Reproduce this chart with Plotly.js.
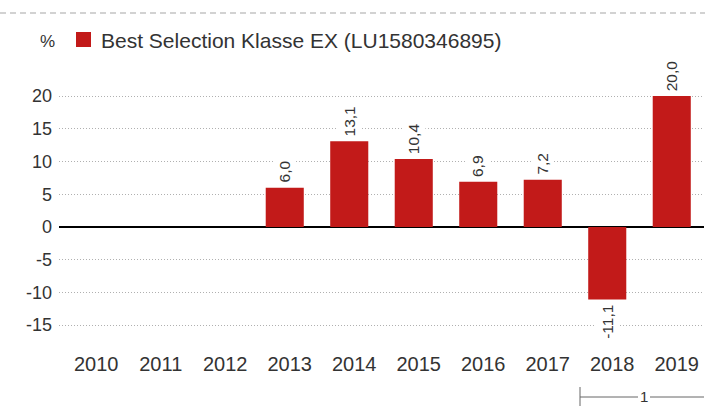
<!DOCTYPE html>
<html>
<head>
<meta charset="utf-8">
<script src="https://cdn.plot.ly/plotly-3.0.1.min.js"></script>
<style>html,body{margin:0;padding:0;background:#fff;}#chart{width:705px;height:409px;}</style>
</head>
<body>
<div id="chart"></div>
<script>
const years = ['2010','2011','2012','2013','2014','2015','2016','2017','2018','2019'];
const returns = [null, null, null, 6.0, 13.1, 10.4, 6.9, 7.2, -11.1, 20.0];
const seriesName = 'Best Selection Klasse EX (LU1580346895)';
const yTicks = [-15, -10, -5, 0, 5, 10, 15, 20];
const unitLabel = '%';
const periodLabel = '1';

const W = 705, H = 409;
const M = {l: 59, r: 1, t: 83, b: 61};
const pw = W - M.l - M.r, ph = H - M.t - M.b;
const px = x => (x - M.l) / pw;
const py = y => (H - M.b - y) / ph;

const fam = 'Liberation Sans, Arial, sans-serif';

const trace = {
  type: 'bar', x: years, y: returns, name: seriesName,
  marker: {color: '#c21a19'},
  width: 0.59,
  cliponaxis: false, hoverinfo: 'none', showlegend: false
};

// value labels with white background (interrupting gridlines, as in reference)
const valueAnnotations = [];
years.forEach((yr, i) => {
  const v = returns[i];
  if (v === null) return;
  valueAnnotations.push({
    xref: 'x', yref: 'y', x: i, y: v, text: v.toFixed(1).replace('.', ','),
    showarrow: false, textangle: -90,
    xanchor: 'center', yanchor: v >= 0 ? 'bottom' : 'top',
    yshift: v >= 0 ? 2 : -2,
    bgcolor: '#fff', borderpad: 3, borderwidth: 0,
    font: {family: fam, size: 15.5, color: '#333'}
  });
});

const layout = {
  width: W, height: H, margin: M,
  paper_bgcolor: '#fff', plot_bgcolor: '#fff',
  showlegend: false, font: {family: fam, color: '#333'},
  xaxis: {type: 'category', range: [-0.5, 9.5], showgrid: false, zeroline: false,
    showline: false, ticks: '', tickfont: {size: 20, color: '#333'}, ticklabelstandoff: 2,
    ticklabelshift: 5, fixedrange: true},
  yaxis: {range: [-18.5, 22], tickvals: yTicks, ticktext: yTicks.map(String),
    showgrid: true, gridcolor: '#b0b0b0', griddash: '1px,2px', gridwidth: 1,
    zeroline: true, zerolinecolor: '#000', zerolinewidth: 1.5,
    ticks: '', tickfont: {size: 18, color: '#333'}, ticklabelstandoff: 6, fixedrange: true},
  shapes: [
    {type: 'line', xref: 'paper', yref: 'paper', x0: px(0), x1: px(705), y0: py(13), y1: py(13),
     line: {color: '#c4c4c4', width: 1.5, dash: '6px,4px'}},
    {type: 'rect', xref: 'paper', yref: 'paper', x0: px(76), x1: px(91), y0: py(47), y1: py(32),
     fillcolor: '#c21a19', line: {width: 0}},
    {type: 'line', xref: 'paper', yref: 'paper', x0: px(580), x1: px(580), y0: py(387), y1: py(406),
     line: {color: '#666', width: 1}},
    {type: 'line', xref: 'paper', yref: 'paper', x0: px(580), x1: px(638), y0: py(397), y1: py(397),
     line: {color: '#666', width: 1}},
    {type: 'line', xref: 'paper', yref: 'paper', x0: px(650), x1: px(704), y0: py(397), y1: py(397),
     line: {color: '#666', width: 1}}
  ],
  annotations: valueAnnotations.concat([
    {xref: 'paper', yref: 'paper', x: px(47), y: py(41), text: unitLabel, showarrow: false,
     xanchor: 'center', yanchor: 'middle', font: {size: 17, color: '#333'}},
    {xref: 'paper', yref: 'paper', x: px(99), y: py(40), text: seriesName, showarrow: false,
     xanchor: 'left', yanchor: 'middle', font: {size: 21, color: '#333'}},
    {xref: 'paper', yref: 'paper', x: px(644), y: py(396), text: periodLabel, showarrow: false,
     xanchor: 'center', yanchor: 'middle', font: {size: 15, color: '#333'}}
  ])
};

Plotly.newPlot('chart', [trace], layout, {staticPlot: true, displayModeBar: false});
</script>
</body>
</html>
